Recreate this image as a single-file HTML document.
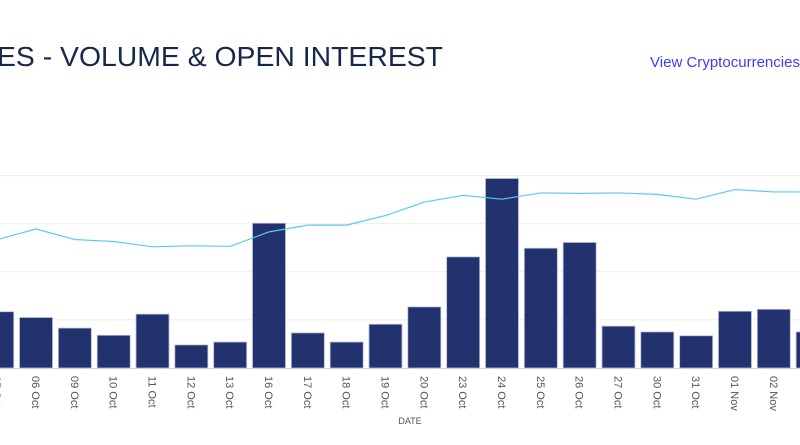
<!DOCTYPE html>
<html><head><meta charset="utf-8"><style>
html,body{margin:0;padding:0;background:#fff;width:800px;height:445px;overflow:hidden}
svg{display:block}
</style></head><body>
<svg width="800" height="445" xmlns="http://www.w3.org/2000/svg">
<text x="443" y="66" text-anchor="end" textLength="446" lengthAdjust="spacingAndGlyphs" font-family="Liberation Sans, sans-serif" font-size="28" fill="#16294a">ES - VOLUME &amp; OPEN INTEREST</text>
<text x="650" y="67" textLength="150" lengthAdjust="spacingAndGlyphs" font-family="Liberation Sans, sans-serif" font-size="15" fill="#3d3df5">View Cryptocurrencies</text>
<g id="grid"></g><g id="bars"></g><g id="line"></g><g id="xlabels"></g>
<text x="410" y="424" text-anchor="middle" font-family="Liberation Sans, sans-serif" font-size="9" fill="#555">DATE</text>
</svg>
<script>
const categories=["05 Oct","06 Oct","09 Oct","10 Oct","11 Oct","12 Oct","13 Oct","16 Oct","17 Oct","18 Oct","19 Oct","20 Oct","23 Oct","24 Oct","25 Oct","26 Oct","27 Oct","30 Oct","31 Oct","01 Nov","02 Nov","03 Nov"];
const volume=[1.17,1.05,0.83,0.68,1.12,0.48,0.54,3.01,0.73,0.54,0.91,1.27,2.31,3.94,2.49,2.61,0.87,0.75,0.67,1.18,1.22,0.75];
const openInterest=[2.67,2.89,2.67,2.63,2.52,2.54,2.53,2.83,2.97,2.97,3.17,3.45,3.59,3.51,3.64,3.63,3.64,3.61,3.51,3.71,3.66,3.66];
const gridTicks=[1,2,3,4];
const NS="http://www.w3.org/2000/svg";
const base=368, unit=48.1, c0=-2.8, pitch=38.83, bw=33;
const y=v=>base-v*unit, x=i=>c0+i*pitch;
function mk(t,a,p){const e=document.createElementNS(NS,t);for(const k in a)e.setAttribute(k,a[k]);p.appendChild(e);return e;}
const g=document.getElementById('grid');
gridTicks.forEach(t=>{const l=mk('line',{x1:0,x2:800,y1:y(t),y2:y(t),stroke:'#ebebeb','stroke-width':1},g);

});
const bl=mk('line',{x1:0,x2:800,y1:base+0.5,y2:base+0.5,stroke:'#d8d8d8','stroke-width':1},g);


const b=document.getElementById('bars');
volume.forEach((v,i)=>{const r=mk('rect',{x:x(i)-bw/2,y:y(v),width:bw,height:v*unit,fill:'#21326f',stroke:'#b8bfd6','stroke-width':0.8},b);

});
const pts=openInterest.map((v,i)=>x(i)+','+y(v)).join(' ');
const pl=mk('polyline',{points:pts,fill:'none',stroke:'#5ec8f5','stroke-width':1.2},document.getElementById('line'));


const xl=document.getElementById('xlabels');
categories.forEach((c,i)=>{const t=mk('text',{x:0,y:0,transform:`translate(${x(i)-4},376) rotate(90)`,'font-family':'Liberation Sans, sans-serif','font-size':11,fill:'#555'},xl);
t.textContent=c;

});
</script>
</body></html>
